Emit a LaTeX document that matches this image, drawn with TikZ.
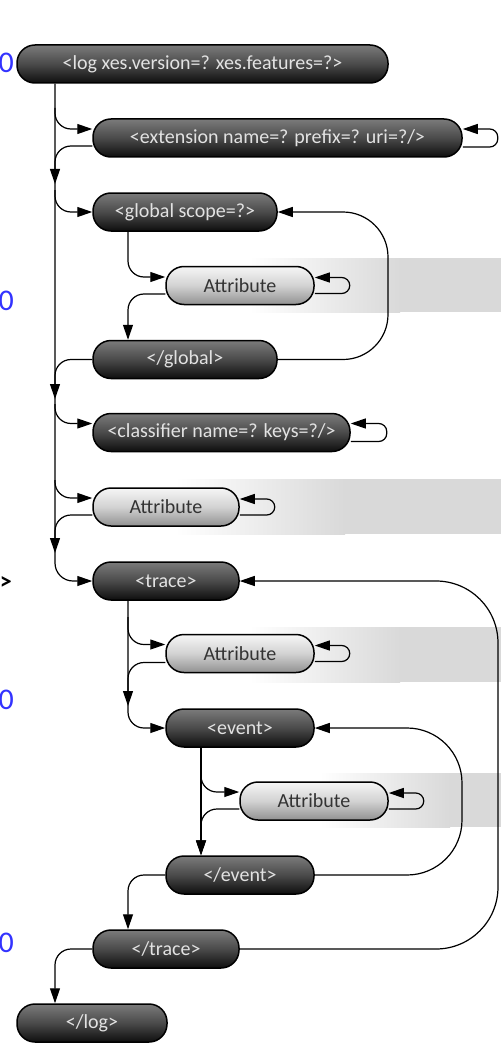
\documentclass[tikz,border=0pt]{standalone}
\usepackage{fontspec}
\setmainfont{Carlito}
\usetikzlibrary{arrows.meta}
\definecolor{bandgray}{HTML}{D9D9D9}
\definecolor{dtop}{HTML}{7B7B7B}
\definecolor{dmid}{HTML}{4A4A4A}
\definecolor{dbot}{HTML}{0E0E0E}
\definecolor{ltop}{HTML}{F6F6F6}
\definecolor{lmid}{HTML}{D2D2D2}
\definecolor{lbot}{HTML}{919191}
\definecolor{txtlight}{HTML}{E2E2E2}
\definecolor{txtdark}{HTML}{333333}
\definecolor{cutblue}{HTML}{3333FF}
\begin{document}
\begin{tikzpicture}[x=1pt,y=-1pt,
  pill/.style={draw=black, line width=1.5pt, rounded corners=18pt, minimum height=38pt, inner sep=0pt, font=\fontsize{20}{24}\selectfont},
  darkpill/.style={pill, top color=dtop, bottom color=dbot, middle color=dmid, text=txtlight},
  lightpill/.style={pill, top color=ltop, bottom color=lbot, middle color=lmid, text=txtdark},
  conn/.style={line width=1.2pt, -{Triangle[length=15pt,width=10pt]}},
  selfloop/.style={conn, rounded corners=8pt},
  bendcorner/.style={rounded corners=16pt},
  cutlabel/.style={anchor=east, inner sep=0pt, font=\fontsize{30}{32}\selectfont}
]
\useasboundingbox (0,0) rectangle (501,1051);
\fill[white] (0,0) rectangle (501,1051);

% background bands
\fill[left color=white, right color=bandgray] (250,258) rectangle (400,312);
\fill[bandgray] (399.5,258) rectangle (501,312);
\fill[left color=white, right color=bandgray] (175,479) rectangle (345,534);
\fill[bandgray] (344.5,479) rectangle (501,534);
\fill[left color=white, right color=bandgray] (250,627) rectangle (400,682);
\fill[bandgray] (399.5,627) rectangle (501,682);
\fill[left color=white, right color=bandgray] (320,773) rectangle (450,827);
\fill[bandgray] (449.5,773) rectangle (501,827);

% cut-off labels at left edge
\node[cutlabel, text=cutblue] (z1) at (14,63) {0};
\node[cutlabel, text=cutblue] (z2) at (14,301) {0};
\node[cutlabel, text=cutblue] (z3) at (14,700) {0};
\node[cutlabel, text=cutblue] (z4) at (14,943) {0};
\node[anchor=east, inner sep=0pt, font=\bfseries\fontsize{24}{26}\selectfont] (z5) at (12,583) {>};

% nodes
\node[darkpill, minimum width=371pt] (log) at (202.5,64) {<log xes.version=? xes.features=?>};
\node[darkpill, minimum width=369pt] (ext) at (277.5,138) {<extension name=? prefix=? uri=?/>};
\node[darkpill, minimum width=184pt] (glob) at (185,212) {<global scope=?>};
\node[lightpill, minimum width=148pt] (att1) at (240,285.5) {Attribute};
\node[darkpill, minimum width=184pt] (eglob) at (185,359.5) {</global>};
\node[darkpill, minimum width=257pt] (cls) at (221.5,432.5) {<classifier name=? keys=?/>};
\node[lightpill, minimum width=146pt] (att2) at (166,507) {Attribute};
\node[darkpill, minimum width=146pt] (trace) at (166,581) {<trace>};
\node[lightpill, minimum width=148pt] (att3) at (240,653.5) {Attribute};
\node[darkpill, minimum width=148pt] (event) at (240,728) {<event>};
\node[lightpill, minimum width=148pt] (att4) at (314,801) {Attribute};
\node[darkpill, minimum width=148pt] (eevent) at (240,875) {</event>};
\node[darkpill, minimum width=146pt] (etrace) at (166,949) {</trace>};
\node[darkpill, minimum width=150pt] (elog) at (92,1023) {</log>};

% helper coordinates
\coordinate (sp) at (55,0);
\coordinate (c1) at (128,0);
\coordinate (c2) at (201,0);
\coordinate (b1) at (55,108);
\coordinate (m1) at (55,184);
\coordinate (b2) at (55,190);
\coordinate (m2) at (55,399);
\coordinate (b3) at (55,404);
\coordinate (b4) at (55,480);
\coordinate (m3) at (55,553);
\coordinate (b5) at (128,617);
\coordinate (m4) at (128,706);
\coordinate (b6) at (201,765);
\coordinate (r1) at (388,0);
\coordinate (r2) at (462,0);
\coordinate (r3) at (498,0);

% main spine
\draw[conn, rounded corners=18pt] (log.south -| sp) |- (trace.west);
\draw[conn, bendcorner] (b1) |- ([yshift=9pt]ext.west);
\draw[conn, bendcorner] ([yshift=-8pt]ext.west) -| (m1);
\draw[conn, bendcorner] (b2) |- (glob.west);
\draw[conn, bendcorner] (eglob.west) -| (m2);
\draw[conn, bendcorner] (b3) |- ([yshift=9pt]cls.west);
\draw[conn, bendcorner] (b4) |- ([yshift=9pt]att2.west);
\draw[conn, bendcorner] ([yshift=-8pt]att2.west) -| (m3);

% global block
\draw[conn, bendcorner] (glob.south -| c1) |- ([yshift=8.5pt]att1.west);
\draw[conn, bendcorner] ([yshift=-8.5pt]att1.west) -| (eglob.north -| c1);
\draw[conn, rounded corners=45pt] (eglob.east) -- (eglob.east -| r1) -- (glob.east -| r1) -- (glob.east);

% trace block
\draw[conn, bendcorner] (trace.south -| c1) |- (event.west);
\draw[conn, bendcorner] (b5) |- ([yshift=9pt]att3.west);
\draw[conn, bendcorner] ([yshift=-9pt]att3.west) -| (m4);

% event block
\draw[conn] (event.south -| c2) -- (eevent.north -| c2);
\draw[conn, bendcorner] (b6) |- ([yshift=9pt]att4.west);
\draw[conn, bendcorner] ([yshift=-8pt]att4.west) -| (eevent.north -| c2);
\draw[conn, rounded corners=55pt] (eevent.east) -- (eevent.east -| r2) -- (event.east -| r2) -- (event.east);

% closing chain
\draw[conn, bendcorner] (eevent.west) -| (etrace.north -| c1);
\draw[conn, rounded corners=62pt] (etrace.east) -- (etrace.east -| r3) -- (trace.east -| r3) -- (trace.east);
\draw[conn, bendcorner] (etrace.west) -| (elog.north -| sp);

% self loops
\draw[selfloop] ([yshift=-9pt]ext.east) -- ++(35,0) |- ([yshift=9pt]ext.east);
\draw[selfloop] ([yshift=-8pt]att1.east) -- ++(35,0) |- ([yshift=8pt]att1.east);
\draw[selfloop] ([yshift=-9pt]cls.east) -- ++(36,0) |- ([yshift=9pt]cls.east);
\draw[selfloop] ([yshift=-8pt]att2.east) -- ++(35,0) |- ([yshift=8pt]att2.east);
\draw[selfloop] ([yshift=-8pt]att3.east) -- ++(35,0) |- ([yshift=8pt]att3.east);
\draw[selfloop] ([yshift=-8pt]att4.east) -- ++(35,0) |- ([yshift=8pt]att4.east);
\end{tikzpicture}
\end{document}
